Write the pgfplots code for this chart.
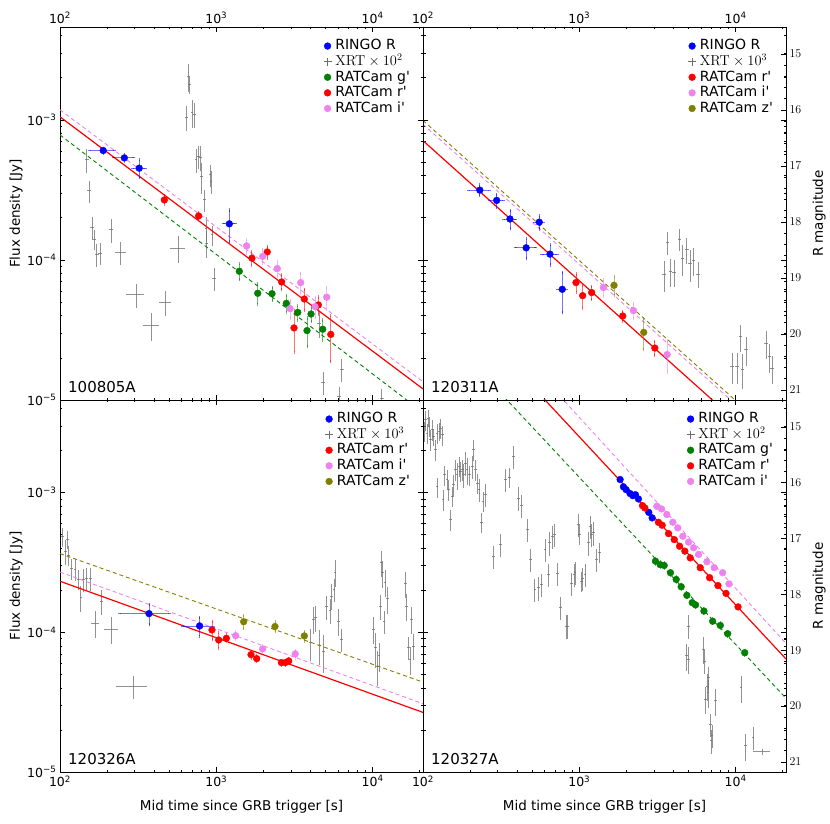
\documentclass[border=0pt]{standalone}
\usepackage[no-math]{fontspec}
\setmainfont{DejaVu Sans}
\usepackage{pgfplots}
\pgfplotsset{compat=1.18}
\definecolor{mblue}{rgb}{0,0,1}
\definecolor{mred}{rgb}{1,0,0}
\definecolor{mgreen}{rgb}{0,0.5,0}
\definecolor{mviolet}{RGB}{238,130,238}
\definecolor{molive}{RGB}{128,128,0}
\definecolor{xrt}{RGB}{110,110,110}
\newcommand{\fsz}{\fontsize{13.5}{15}\selectfont}
\newcommand{\fst}{\fontsize{12.5}{14}\selectfont}
\newcommand{\fsl}{\fontsize{14}{15}\selectfont}
\newcommand{\pr}{\textquotesingle}
\pgfplotsset{
  grbpanel/.style={scale only axis, width=363pt,
    xmin=100, xmax=21000, ymin=1e-5, ymax=4.6e-3,
    xtick={100,1000,10000},
    xticklabels={10\textsuperscript{2},10\textsuperscript{3},10\textsuperscript{4}},
    minor xtick={200,300,400,500,600,700,800,900,2000,3000,4000,5000,6000,7000,8000,9000,20000},
    ytick={1e-5,1e-4,1e-3},
    minor ytick={2e-5,3e-5,4e-5,5e-5,6e-5,7e-5,8e-5,9e-5,2e-4,3e-4,4e-4,5e-4,6e-4,7e-4,8e-4,9e-4,2e-3,3e-3,4e-3},
    tick align=inside, major tick length=5pt, minor tick length=2.5pt,
    tick style={black, line width=0.6pt},
    tick label style={font=\fst}, axis line style={line width=0.8pt},
    every axis y label/.style={at={(axis description cs:-0.121,0.5)}, rotate=90, anchor=center, font=\fsz},
    every axis x label/.style={at={(axis description cs:0.5,-0.093)}, anchor=center, font=\fsz},
    legend style={at={(0.975,0.975)}, anchor=north east, draw=none, fill=none, font=\fsl,
      nodes={inner sep=0.8pt, text height=10.5pt, text depth=3pt}, row sep=0.5pt,
      /tikz/every odd column/.append style={column sep=3pt}},
    legend cell align=left,
  },
  leftlab/.style={yticklabels={10\textsuperscript{\textminus5},10\textsuperscript{\textminus4},10\textsuperscript{\textminus3}}, ylabel={Flux density [Jy]}},
  nolab/.style={yticklabels={}},
  magaxis/.style={scale only axis, width=363pt, xmin=100, xmax=21000,
    xtick=\empty, ymin=14.52, ymax=21.18, y dir=reverse,
    ytick pos=right, yticklabel pos=right,
    ytick={15,16,17,18,19,20,21}, minor y tick num=4,
    tick align=inside, major tick length=5pt, minor tick length=2.5pt,
    tick style={black, line width=0.6pt},
    tick label style={font=\fst}, axis line style={line width=0.8pt},
    every axis y label/.style={at={(axis description cs:1.091,0.5)}, rotate=90, anchor=center, font=\fsz},
    ylabel={R magnitude}},
  dat/.style={only marks, mark=*, mark size=3.4pt, color=#1, mark options={draw=#1, fill=#1}, forget plot,
    error bars/x dir=both, error bars/y dir=both, error bars/x explicit relative, error bars/y explicit relative,
    error bars/error bar style={draw=#1, draw opacity=0.55, line width=0.9pt},
    error bars/error mark options={draw=#1, draw opacity=0.55, mark size=1.6pt, line width=0.9pt}},
  xrtp/.style={draw=none, mark=none, forget plot,
    error bars/x dir=both, error bars/y dir=both, error bars/x explicit relative, error bars/y explicit relative,
    error bars/error bar style={draw=xrt, draw opacity=0.75, line width=0.8pt, solid}, error bars/error mark=none},
  fitr/.style={mred, line width=1.2pt, forget plot},
  fitd/.style={#1, line width=0.9pt, dash pattern=on 4pt off 3pt, forget plot},
}
\newcommand{\nm}[1]{\node[anchor=south west, font=\fontsize{15}{15}\selectfont, inner sep=0pt] at (rel axis cs:0.022,0.02) {#1};}
\newcommand{\lgmark}[1]{\addlegendimage{only marks, mark=*, mark size=3.4pt, #1}}
\newcommand{\lgxrt}{\addlegendimage{only marks, mark=+, mark size=4pt, xrt, line width=0.7pt}}
\begin{document}
\begin{tikzpicture}
\useasboundingbox (0,0) rectangle (830pt,824pt);
% ================= TL 100805A
\begin{loglogaxis}[grbpanel, leftlab, height=373pt, at={(60pt,424pt)}, anchor=south west, xticklabel pos=upper, xtick pos=both]
\addplot[xrtp] table[x=x,y=y,x error=xe,y error=ye]{
x y xe ye
148 5.19e-4 0.03 0.19
154 3.11e-4 0.03 0.175
161 1.71e-4 0.03 0.175
166 1.41e-4 0.03 0.165
172 1.09e-4 0.03 0.19
180 1.12e-4 0.03 0.175
212 1.64e-4 0.03 0.2
244 1.13e-4 0.085 0.19
306 5.64e-5 0.13 0.2
386 3.40e-5 0.12 0.22
470 4.97e-5 0.085 0.2
569 1.21e-4 0.11 0.22
665 2.04e-3 0.02 0.22
671 1.78e-3 0.02 0.14
646 1.04e-3 0.02 0.2
698 1.13e-3 0.02 0.22
722 1.10e-3 0.02 0.2
741 5.19e-4 0.02 0.19
767 5.48e-4 0.02 0.19
794 5.42e-4 0.02 0.2
805 3.94e-4 0.02 0.25
837 2.69e-4 0.02 0.18
910 4.05e-4 0.02 0.18
924 3.63e-4 0.02 0.19
859 1.69e-4 0.02 0.2
867 1.32e-4 0.02 0.22
938 1.51e-4 0.02 0.165
970 7.41e-5 0.03 0.19
4560 3.53e-5 0.03 0.22
4830 1.33e-5 0.03 0.19
6340 1.66e-5 0.03 0.19
6120 1.06e-5 0.03 0.165
11430 1.03e-5 0.03 0.165
};
\addplot[fitd=mviolet] coordinates {(100,1.18e-3) (21000,1.35e-5)};
\addplot[fitd=mgreen] coordinates {(100,7.8e-4) (21000,8.15e-6)};
\addplot[fitr] coordinates {(100,1.05e-3) (21000,1.20e-5)};
\addplot[dat=mblue] table[x=x,y=y,x error=xe,y error=ye]{
x y xe ye
189 6.04e-4 0.18 0.04
258 5.35e-4 0.15 0.05
321 4.52e-4 0.09 0.148
1211 1.81e-4 0.086 0.254
};
\addplot[dat=mgreen] table[x=x,y=y,x error=xe,y error=ye]{
x y xe ye
1403 8.3e-5 0 0.13
1841 5.78e-5 0 0.165
2271 5.74e-5 0 0.11
2805 4.9e-5 0 0.14
3318 4.22e-5 0 0.12
4036 4.11e-5 0 0.12
3804 3.13e-5 0 0.23
4794 3.2e-5 0 0.165
};
\addplot[dat=mred] table[x=x,y=y,x error=xe,y error=ye]{
x y xe ye
465 2.68e-4 0 0.066
771 2.06e-4 0 0.055
1690 1.03e-4 0 0.11
2118 1.14e-4 0 0.1
2618 6.96e-5 0 0.12
3655 5.26e-5 0 0.17
3141 3.27e-5 0 0.33
4495 4.77e-5 0 0.14
5397 2.94e-5 0 0.36
};
\addplot[dat=mviolet] table[x=x,y=y,x error=xe,y error=ye]{
x y xe ye
1563 1.26e-4 0 0.11
1980 1.06e-4 0 0.11
2455 8.68e-5 0 0.12
3466 6.89e-5 0 0.165
2965 4.49e-5 0 0.15
4285 4.64e-5 0 0.165
5085 5.42e-5 0 0.18
};
\lgmark{mblue}\addlegendentry{RINGO R}
\lgxrt\addlegendentry{$\mathrm{XRT}\times10^{2}$}
\lgmark{mgreen}\addlegendentry{RATCam g\pr}
\lgmark{mred}\addlegendentry{RATCam r\pr}
\lgmark{mviolet}\addlegendentry{RATCam i\pr}
\nm{100805A}
\end{loglogaxis}
% ================= TR 120311A
\begin{loglogaxis}[grbpanel, nolab, height=373pt, at={(423pt,424pt)}, anchor=south west, xticklabel pos=upper, xtick pos=both]
\addplot[xrtp] table[x=x,y=y,x error=xe,y error=ye]{
x y xe ye
3490 7.82e-5 0.025 0.25
3664 1.33e-4 0.025 0.19
3847 8.26e-5 0.025 0.22
4046 8.17e-5 0.025 0.22
4375 1.41e-4 0.025 0.18
4592 1.02e-4 0.025 0.25
4875 1.19e-4 0.025 0.21
5117 9.37e-5 0.025 0.26
5383 9.89e-5 0.025 0.22
5738 7.94e-5 0.025 0.21
9470 1.73e-5 0.03 0.25
10200 1.73e-5 0.03 0.25
10700 2.83e-5 0.025 0.22
11090 1.66e-5 0.025 0.28
11650 2.28e-5 0.025 0.23
15640 2.54e-5 0.025 0.23
16430 2.04e-5 0.025 0.23
17100 1.68e-5 0.025 0.22
};
\addplot[fitd=molive] coordinates {(100,9.9e-4) (21000,4.72e-6)};
\addplot[fitd=mviolet] coordinates {(100,9.3e-4) (21000,4.43e-6)};
\addplot[fitr] coordinates {(100,7.1e-4) (21000,3.38e-6)};
\addplot[dat=mblue] table[x=x,y=y,x error=xe,y error=ye]{
x y xe ye
231 3.15e-4 0.15 0.09
296 2.66e-4 0.10 0.105
360 1.96e-4 0.09 0.15
457 1.22e-4 0.15 0.165
554 1.86e-4 0.06 0.105
649 1.10e-4 0.11 0.165
778 6.17e-5 0.06 0.32
};
\addplot[dat=mred] table[x=x,y=y,x error=xe,y error=ye]{
x y xe ye
952 6.89e-5 0.02 0.15
1050 5.56e-5 0.02 0.19
1199 5.85e-5 0.02 0.11
1897 3.98e-5 0.02 0.08
3041 2.35e-5 0.02 0.12
};
\addplot[dat=mviolet] table[x=x,y=y,x error=xe,y error=ye]{
x y xe ye
1425 6.35e-5 0.02 0.135
2219 4.35e-5 0.02 0.125
3648 2.11e-5 0.02 0.25
};
\addplot[dat=molive] table[x=x,y=y,x error=xe,y error=ye]{
x y xe ye
1667 6.59e-5 0.02 0.15
2583 3.04e-5 0.02 0.25
};
\lgmark{mblue}\addlegendentry{RINGO R}
\lgxrt\addlegendentry{$\mathrm{XRT}\times10^{3}$}
\lgmark{mred}\addlegendentry{RATCam r\pr}
\lgmark{mviolet}\addlegendentry{RATCam i\pr}
\lgmark{molive}\addlegendentry{RATCam z\pr}
\nm{120311A}
\end{loglogaxis}
\begin{semilogxaxis}[magaxis, height=373pt, at={(423pt,424pt)}, anchor=south west]
\addplot[draw=none, forget plot] coordinates {(1000,18)};
\end{semilogxaxis}
% ================= BL 120326A
\begin{loglogaxis}[grbpanel, leftlab, height=372pt, at={(60pt,52pt)}, anchor=south west, xticklabel pos=lower, xtick pos=both, xlabel={Mid time since GRB trigger [s]}]
\addplot[xrtp] table[x=x,y=y,x error=xe,y error=ye]{
x y xe ye
104 4.82e-4 0.02 0.15
108 3.81e-4 0.02 0.21
112 4.61e-4 0.02 0.15
113 3.55e-4 0.02 0.165
119 2.85e-4 0.02 0.165
125 2.82e-4 0.02 0.18
131 2.39e-4 0.02 0.165
136 1.77e-4 0.02 0.21
141 2.39e-4 0.02 0.19
148 2.45e-4 0.02 0.18
156 2.42e-4 0.02 0.19
168 1.16e-4 0.055 0.22
185 1.67e-4 0.02 0.21
214 1.05e-4 0.1 0.22
294 4.09e-5 0.22 0.19
4009 8.43e-5 0.02 0.255
4169 1.24e-4 0.02 0.22
4315 1.27e-4 0.02 0.21
4560 8.07e-5 0.02 0.28
4830 7.35e-5 0.02 0.3
5080 1.52e-4 0.02 0.19
5330 1.44e-4 0.02 0.21
5470 1.82e-4 0.02 0.21
5660 2.03e-4 0.02 0.19
5740 2.70e-4 0.02 0.22
6030 1.20e-4 0.02 0.22
6330 8.91e-5 0.02 0.19
10090 1.05e-4 0.02 0.22
10450 7.76e-5 0.02 0.28
10710 5.74e-5 0.02 0.28
10970 6.78e-5 0.02 0.23
11250 1.54e-4 0.02 0.21
11420 3.14e-4 0.02 0.21
11590 2.67e-4 0.02 0.22
11810 1.20e-4 0.02 0.19
11990 2.29e-4 0.02 0.22
12410 1.74e-4 0.02 0.22
16250 2.24e-4 0.02 0.21
16490 1.54e-4 0.02 0.22
16890 7.76e-5 0.02 0.19
17330 6.41e-5 0.02 0.23
17750 1.24e-4 0.02 0.22
18200 7.98e-5 0.02 0.21
};
\addplot[fitd=molive] coordinates {(100,3.66e-4) (21000,4.40e-5)};
\addplot[fitd=mviolet] coordinates {(100,2.70e-4) (21000,3.08e-5)};
\addplot[fitr] coordinates {(100,2.32e-4) (21000,2.67e-5)};
\addplot[dat=mblue] table[x=x,y=y,x error=xe,y error=ye]{
x y xe ye
371 1.36e-4 0.35 0.165
782 1.11e-4 0.22 0.155
};
\addplot[dat=mred] table[x=x,y=y,x error=xe,y error=ye]{
x y xe ye
938 1.04e-4 0.02 0.15
1035 8.81e-5 0.02 0.13
1159 9.06e-5 0.02 0.055
1667 6.92e-5 0.02 0.055
1812 6.48e-5 0.02 0.05
2606 6.07e-5 0.02 0.04
2761 6.07e-5 0.02 0.04
2904 6.24e-5 0.02 0.04
};
\addplot[dat=mviolet] table[x=x,y=y,x error=xe,y error=ye]{
x y xe ye
1330 9.46e-5 0.02 0.065
1977 7.60e-5 0.02 0.055
3199 7.0e-5 0.02 0.065
};
\addplot[dat=molive] table[x=x,y=y,x error=xe,y error=ye]{
x y xe ye
1496 1.19e-4 0.02 0.11
2372 1.10e-4 0.02 0.08
3656 9.42e-5 0.02 0.08
};
\lgmark{mblue}\addlegendentry{RINGO R}
\lgxrt\addlegendentry{$\mathrm{XRT}\times10^{3}$}
\lgmark{mred}\addlegendentry{RATCam r\pr}
\lgmark{mviolet}\addlegendentry{RATCam i\pr}
\lgmark{molive}\addlegendentry{RATCam z\pr}
\nm{120326A}
\end{loglogaxis}
% ================= BR 120327A
\begin{loglogaxis}[grbpanel, nolab, height=372pt, at={(423pt,52pt)}, anchor=south west, xticklabel pos=lower, xtick pos=both, xlabel={Mid time since GRB trigger [s]}]
\addplot[xrtp] table[x=x,y=y,x error=xe,y error=ye]{
x y xe ye
101.5 2.74e-3 0.02 0.165
104 3.32e-3 0.02 0.165
106 2.67e-3 0.02 0.165
107.6 3.41e-3 0.02 0.14
109.3 2.98e-3 0.02 0.165
111.4 2.39e-3 0.02 0.165
114.8 2.82e-3 0.02 0.165
117.1 2.52e-3 0.02 0.14
120.6 2.03e-3 0.02 0.165
122.9 2.67e-3 0.02 0.165
126.6 2.74e-3 0.02 0.14
129.1 2.90e-3 0.02 0.165
133 2.59e-3 0.02 0.165
122.9 1.10e-3 0.02 0.165
134.4 8.91e-4 0.02 0.165
137.7 1.34e-3 0.02 0.165
142.5 1.24e-3 0.02 0.165
146 1.05e-3 0.02 0.165
149.7 6.41e-4 0.02 0.165
154.2 9.42e-4 0.02 0.165
157.3 1.14e-3 0.02 0.165
162 1.46e-3 0.02 0.165
165.2 1.34e-3 0.02 0.22
170.2 1.54e-3 0.02 0.165
173.5 1.42e-3 0.02 0.165
178.7 1.46e-3 0.02 0.165
182.3 1.34e-3 0.02 0.19
187.7 1.63e-3 0.02 0.19
191.5 1.46e-3 0.02 0.22
199.2 1.34e-3 0.02 0.165
207.2 1.54e-3 0.02 0.19
211.3 2.03e-3 0.02 0.165
217.6 1.46e-3 0.02 0.165
223 1.17e-3 0.02 0.165
228.6 1.05e-3 0.02 0.19
236.6 6.14e-4 0.02 0.165
242.5 8.67e-4 0.02 0.165
250.9 9.66e-4 0.02 0.19
283.8 3.51e-4 0.02 0.19
313.2 4.25e-4 0.02 0.19
338.8 1.24e-3 0.02 0.19
355.9 1.29e-3 0.02 0.165
377.6 1.82e-3 0.02 0.19
406.4 9.16e-4 0.02 0.19
426.9 8.07e-4 0.02 0.19
464.2 5.43e-4 0.02 0.19
487.5 3.32e-4 0.02 0.19
519.7 2.03e-4 0.02 0.19
546 2.08e-4 0.02 0.19
573.6 2.20e-4 0.02 0.19
602.6 3.92e-4 0.02 0.19
632.8 2.59e-4 0.02 0.19
642.2 4.37e-4 0.02 0.19
674.5 4.88e-4 0.02 0.19
691.3 5.01e-4 0.02 0.19
726.3 2.64e-4 0.02 0.19
759.1 1.50e-4 0.02 0.19
821.3 1.11e-4 0.02 0.19
837.7 1.11e-4 0.02 0.19
893.2 2.24e-4 0.02 0.19
924.4 2.59e-4 0.02 0.19
938.2 2.67e-4 0.02 0.19
985.4 5.90e-4 0.02 0.19
1000 5.01e-4 0.02 0.165
1035 2.32e-4 0.02 0.165
1050 2.42e-4 0.02 0.19
1087 2.59e-4 0.02 0.19
1142 4.37e-4 0.02 0.19
1171 5.74e-4 0.02 0.19
1200 5.01e-4 0.02 0.19
1229 5.15e-4 0.02 0.19
1292 3.32e-4 0.02 0.19
1344 3.75e-4 0.02 0.165
4996 1.11e-4 0.02 0.19
4875 6.78e-5 0.02 0.22
4996 6.41e-5 0.02 0.22
6235 7.55e-5 0.02 0.22
6296 6.24e-5 0.02 0.19
6712 4.74e-5 0.02 0.19
6549 4.13e-5 0.02 0.22
6390 3.32e-5 0.02 0.22
6646 3.71e-5 0.02 0.22
7408 3.23e-5 0.02 0.22
6879 2.20e-5 0.02 0.19
7052 1.82e-5 0.02 0.19
6948 1.67e-5 0.02 0.19
10820 4.02e-5 0.02 0.22
11530 1.54e-5 0.02 0.22
12920 1.77e-5 0.02 0.19
14750 1.40e-5 0.13 0.05
};
\addplot[fitd=mgreen] coordinates {(100,2.02e-2) (21000,3.37e-5)};
\addplot[fitd=mviolet] coordinates {(100,5.78e-2) (21000,8.32e-5)};
\addplot[fitr] coordinates {(100,4.0e-2) (21000,6.44e-5)};
\addplot[dat=mblue] table[x=x,y=y,x error=xe,y error=ye]{
x y xe ye
1824 1.24e-3 0.01 0.02
1915 1.10e-3 0.01 0.02
1992 1.05e-3 0.01 0.02
2112 9.84e-4 0.01 0.02
2198 9.51e-4 0.01 0.02
2286 9.66e-4 0.01 0.02
2389 9.0e-4 0.01 0.02
2782 7.22e-4 0.01 0.02
2922 6.59e-4 0.01 0.02
};
\addplot[dat=mgreen] table[x=x,y=y,x error=xe,y error=ye]{
x y xe ye
3069 3.23e-4 0.01 0.05
3289 3.05e-4 0.01 0.05
3490 3.01e-4 0.01 0.04
3828 2.67e-4 0.01 0.04
4165 2.39e-4 0.01 0.04
4482 2.12e-4 0.01 0.04
4875 1.84e-4 0.01 0.04
5275 1.63e-4 0.01 0.04
5540 1.57e-4 0.01 0.04
6268 1.42e-4 0.01 0.04
7125 1.20e-4 0.01 0.04
7978 1.12e-4 0.01 0.04
8890 9.77e-5 0.01 0.04
11430 7.14e-5 0.01 0.04
};
\addplot[dat=mred] table[x=x,y=y,x error=xe,y error=ye]{
x y xe ye
2535 8.07e-4 0.01 0.02
2624 7.77e-4 0.01 0.02
3206 6.13e-4 0.01 0.02
3388 5.84e-4 0.01 0.02
3721 5.09e-4 0.01 0.02
4047 4.61e-4 0.01 0.02
4378 4.13e-4 0.01 0.02
4733 3.81e-4 0.01 0.02
5120 3.41e-4 0.01 0.02
5937 2.90e-4 0.01 0.02
6812 2.46e-4 0.01 0.02
7705 2.16e-4 0.01 0.02
8676 1.90e-4 0.01 0.02
10360 1.52e-4 0.01 0.02
};
\addplot[dat=mviolet] table[x=x,y=y,x error=xe,y error=ye]{
x y xe ye
3133 7.98e-4 0.01 0.02
3357 7.64e-4 0.01 0.02
3631 6.96e-4 0.01 0.02
3966 6.14e-4 0.01 0.02
4267 5.59e-4 0.01 0.02
4594 4.87e-4 0.01 0.02
4997 4.42e-4 0.01 0.02
5380 4.03e-4 0.01 0.02
5794 3.61e-4 0.01 0.02
6549 3.20e-4 0.01 0.02
7296 2.90e-4 0.01 0.02
8254 2.67e-4 0.01 0.02
9062 2.22e-4 0.01 0.02
};
\lgmark{mblue}\addlegendentry{RINGO R}
\lgxrt\addlegendentry{$\mathrm{XRT}\times10^{2}$}
\lgmark{mgreen}\addlegendentry{RATCam g\pr}
\lgmark{mred}\addlegendentry{RATCam r\pr}
\lgmark{mviolet}\addlegendentry{RATCam i\pr}
\nm{120327A}
\end{loglogaxis}
\begin{semilogxaxis}[magaxis, height=372pt, at={(423pt,52pt)}, anchor=south west]
\addplot[draw=none, forget plot] coordinates {(1000,18)};
\end{semilogxaxis}
\end{tikzpicture}
\end{document}
